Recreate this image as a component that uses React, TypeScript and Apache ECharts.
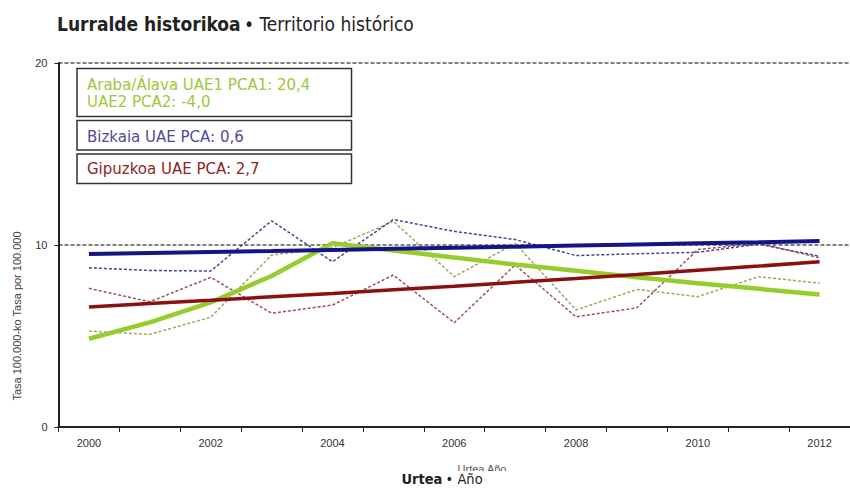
import React, { useEffect, useRef } from "react";
import * as echarts from "echarts";

const years = ["2000", "2001", "2002", "2003", "2004", "2005", "2006", "2007", "2008", "2009", "2010", "2011", "2012"];

const alavaObs = [5.27, 5.09, 6.03, 9.45, 9.85, 11.3, 8.26, 10.09, 6.43, 7.56, 7.16, 8.26, 7.9];
const bizkaiaObs = [8.75, 8.6, 8.57, 11.33, 9.08, 11.4, 10.75, 10.3, 9.42, 9.52, 9.6, 10.05, 9.38];
const gipuzkoaObs = [7.62, 6.88, 8.22, 6.25, 6.7, 8.35, 5.73, 8.9, 6.05, 6.55, 9.75, 10.1, 9.3];

const alavaTrend = [4.85, 5.75, 6.85, 8.3, 10.1, 9.7, 9.31, 8.93, 8.58, 8.23, 7.9, 7.59, 7.28];
const bizkaiaTrend = [9.5, 9.56, 9.62, 9.67, 9.73, 9.79, 9.85, 9.91, 9.97, 10.03, 10.09, 10.15, 10.22];
const gipuzkoaTrend = [6.6, 6.78, 6.96, 7.15, 7.34, 7.54, 7.74, 7.95, 8.16, 8.38, 8.61, 8.84, 9.08];

const yTicks = [0, 10, 20];

const legendLines = [
  { text: "Araba/Álava UAE1 PCA1: 20,4", color: "#9cc83c" },
  { text: "UAE2 PCA2: -4,0", color: "#9cc83c" },
  { text: "Bizkaia UAE PCA: 0,6", color: "#4c4c9c" },
  { text: "Gipuzkoa UAE PCA: 2,7", color: "#8e2424" },
];

const narrow = '"Liberation Sans Narrow", "DejaVu Sans Condensed", "Roboto Condensed", Roboto, sans-serif';
const arial = '"Liberation Sans", Arial, sans-serif';
const verdana = '"DejaVu Sans", Verdana, sans-serif';

export default function App() {
  const ref = useRef<HTMLDivElement>(null);
  useEffect(() => {
    if (!ref.current) return;
    const chart = echarts.init(ref.current, null, { renderer: "svg" });
    const dashed = (name: string, data: number[], color: string) => ({
      name,
      type: "line",
      data,
      symbol: "none",
      z: 2,
      lineStyle: { color, width: 1.5, type: [3, 2] },
    });
    const solid = (name: string, data: number[], color: string, width: number) => ({
      name,
      type: "line",
      data,
      symbol: "none",
      z: 3,
      lineStyle: { color, width },
    });
    const legendText = (i: number, y: number) => ({
      type: "text",
      x: 87,
      y,
      z: 11,
      style: {
        text: legendLines[i].text,
        fill: legendLines[i].color,
        fontSize: 15,
        fontFamily: verdana,
        verticalAlign: "middle",
      },
    });
    chart.setOption({
      animation: false,
      backgroundColor: "#ffffff",
      grid: { left: 58.5, top: 63, width: 803.8, height: 364, containLabel: false },
      xAxis: {
        type: "category",
        data: years,
        boundaryGap: true,
        axisLine: { show: true, lineStyle: { color: "#222", width: 2 } },
        axisTick: { show: true, interval: 0, length: 5, lineStyle: { color: "#222", width: 1 } },
        axisLabel: { interval: 1, color: "#333", fontSize: 11, fontFamily: arial, margin: 10 },
        splitLine: { show: false },
      },
      yAxis: {
        type: "value",
        min: yTicks[0],
        max: yTicks[yTicks.length - 1],
        interval: 10,
        axisLine: { show: true, lineStyle: { color: "#222", width: 2 } },
        axisTick: { show: true, length: 4, lineStyle: { color: "#222" } },
        axisLabel: { color: "#333", fontSize: 11, fontFamily: arial, margin: 11 },
        splitLine: { show: true, lineStyle: { color: "#555", width: 1.5, type: [4, 2] } },
      },
      series: [
        dashed("Araba/Álava", alavaObs, "#a4a45c"),
        dashed("Bizkaia", bizkaiaObs, "#45458e"),
        dashed("Gipuzkoa", gipuzkoaObs, "#9a4f60"),
        solid("Araba/Álava UAE", alavaTrend, "#96cc2c", 4.5),
        solid("Gipuzkoa UAE", gipuzkoaTrend, "#8b1010", 3.5),
        solid("Bizkaia UAE", bizkaiaTrend, "#141486", 4),
      ],
      graphic: [
        {
          type: "text",
          left: 57,
          top: 14,
          style: {
            text: "{b|Lurralde historikoa} {r|• Territorio histórico}",
            rich: {
              b: { fontFamily: narrow, fontWeight: "bold", fontSize: 19, fill: "#222" },
              r: { fontFamily: narrow, fontSize: 19, fill: "#222" },
            },
          },
        },
        {
          type: "rect",
          shape: { x: 77, y: 68.5, width: 274.5, height: 48 },
          style: { fill: "#fff", stroke: "#333", lineWidth: 1.5 },
          z: 10,
        },
        {
          type: "rect",
          shape: { x: 77, y: 120.5, width: 274.5, height: 29.5 },
          style: { fill: "#fff", stroke: "#333", lineWidth: 1.5 },
          z: 10,
        },
        {
          type: "rect",
          shape: { x: 77, y: 154, width: 274.5, height: 29.5 },
          style: { fill: "#fff", stroke: "#333", lineWidth: 1.5 },
          z: 10,
        },
        legendText(0, 84.5),
        legendText(1, 101.5),
        legendText(2, 136.5),
        legendText(3, 169),
        {
          type: "text",
          x: 17,
          y: 316,
          rotation: Math.PI / 2,
          style: {
            text: "Tasa 100.000-ko Tasa por 100.000",
            fill: "#444",
            fontSize: 11,
            fontFamily: arial,
            align: "center",
            verticalAlign: "middle",
          },
        },
        {
          type: "text",
          x: 482,
          y: 463,
          z: 5,
          style: { text: "Urtea Año", fill: "#555", fontSize: 11, fontFamily: arial, align: "center", verticalAlign: "top" },
        },
        {
          type: "rect",
          z: 6,
          shape: { x: 0, y: 471, width: 850, height: 17 },
          style: { fill: "#fff" },
        },
        {
          type: "text",
          x: 442,
          y: 479,
          z: 7,
          style: {
            text: "{b|Urtea} {r|• Año}",
            align: "center",
            verticalAlign: "middle",
            rich: {
              b: { fontFamily: narrow, fontWeight: "bold", fontSize: 14.5, fill: "#222" },
              r: { fontFamily: narrow, fontSize: 14.5, fill: "#222" },
            },
          },
        },
      ],
    });
    return () => chart.dispose();
  }, []);
  return (
    <div
      ref={ref}
      style={{ position: "absolute", left: 0, top: 0, width: 850, height: 488, background: "#fff" }}
    />
  );
}
